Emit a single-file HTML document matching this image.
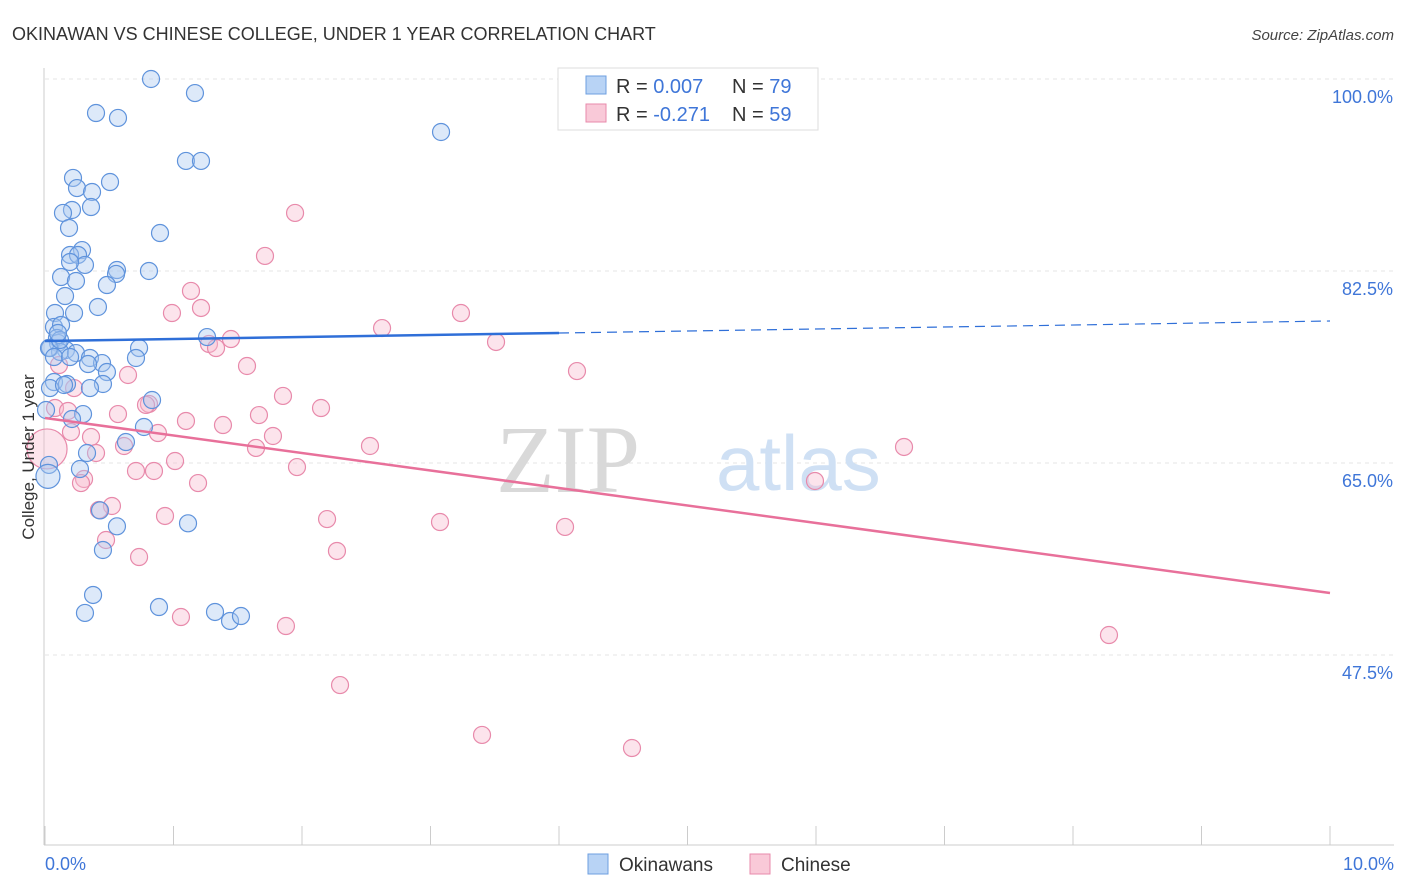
<!DOCTYPE html>
<html><head><meta charset="utf-8"><style>
body{margin:0;background:#fff;font-family:"Liberation Sans",sans-serif;}
#wrap{position:relative;width:1406px;height:892px;overflow:hidden;}
</style></head><body>
<div id="wrap">
<svg id="svg" width="1406" height="892" xmlns="http://www.w3.org/2000/svg">
<text x="12" y="40" font-size="18" fill="#333" font-family="Liberation Sans, sans-serif">OKINAWAN VS CHINESE COLLEGE, UNDER 1 YEAR CORRELATION CHART</text>
<text x="1394" y="40" font-size="15" fill="#444" font-style="italic" text-anchor="end">Source: ZipAtlas.com</text>
<g id="grid"></g>
<text x="640" y="492" font-size="96" fill="#d9d9d9" text-anchor="end" font-family="Liberation Serif, serif">ZIP</text>
<text x="716" y="490" font-size="78" fill="#cfe0f4" font-family="Liberation Sans, sans-serif">atlas</text>
<g id="points"></g>
<g id="lines"></g>
<text transform="translate(34,457) rotate(-90)" font-size="17" fill="#333" text-anchor="middle">College, Under 1 year</text>
<g>
<rect x="558" y="68" width="260" height="62" fill="#fff" stroke="#ddd"/>
<rect x="586" y="76" width="20" height="18" fill="#b8d3f5" stroke="#6e9fe0"/>
<rect x="586" y="104" width="20" height="18" fill="#f9c9d8" stroke="#e88aab"/>
<text x="616" y="93" font-size="20" fill="#333">R = <tspan fill="#3f76d8">0.007</tspan></text>
<text x="732" y="93" font-size="20" fill="#333">N = <tspan fill="#3f76d8">79</tspan></text>
<text x="616" y="121" font-size="20" fill="#333">R = <tspan fill="#3f76d8">-0.271</tspan></text>
<text x="732" y="121" font-size="20" fill="#333">N = <tspan fill="#3f76d8">59</tspan></text>
</g>
<g>
<rect x="588" y="854" width="20" height="20" fill="#b8d3f5" stroke="#6e9fe0"/>
<text x="619" y="871" font-size="19" fill="#333">Okinawans</text>
<rect x="750" y="854" width="20" height="20" fill="#f9c9d8" stroke="#e88aab"/>
<text x="781" y="871" font-size="19" fill="#333">Chinese</text>
</g>
</svg>
</div>
<script>
const yTicks=[100,82.5,65,47.5];
const yTickLabels=["100.0%","82.5%","65.0%","47.5%"];
const xTickLabels=["0.0%","10.0%"];
const okiX=[0.825,1.167,0.397,0.568,3.082,1.097,1.214,0.218,0.506,0.249,0.366,0.358,0.210,0.140,0.187,0.895,0.288,0.195,0.257,0.311,0.195,0.560,0.809,0.553,0.125,0.241,0.482,0.156,0.412,0.078,0.226,0.070,0.125,0.093,0.101,1.261,0.039,0.163,0.732,0.117,0.241,0.350,0.444,0.708,0.335,0.482,0.070,0.171,0.451,0.833,0.039,0.350,0.296,0.210,0.770,0.630,0.327,0.031,0.272,0.428,0.560,1.113,0.451,0.374,0.311,0.887,1.323,1.440,1.525,0.031,0.070,0.148,0.008,0.195,0.117,0.101];
const okiY=[100,98.72,96.90,96.45,95.17,92.53,92.53,90.98,90.61,90.06,89.70,88.33,88.06,87.79,86.42,85.96,84.41,83.96,83.96,83.05,83.32,82.59,82.50,82.23,81.95,81.59,81.22,80.22,79.22,78.67,78.67,77.40,77.58,76.39,75.94,76.48,75.48,75.30,75.48,75.12,75.02,74.57,74.11,74.57,74.02,73.29,72.38,72.20,72.20,70.74,71.83,71.83,69.46,69.01,68.28,66.91,65.91,64.82,64.45,60.68,59.23,59.50,57.07,52.97,51.33,51.87,51.42,50.60,51.05,75.48,74.66,72.11,69.83,74.66,76.21,76.85];
const okiBigX=[0.023], okiBigY=[63.78];
const chiX=[1.946,1.712,1.136,1.214,0.988,3.237,2.623,3.510,1.447,1.276,1.331,1.572,4.140,0.109,0.646,0.226,1.852,0.809,0.786,2.148,0.568,1.665,0.078,0.179,1.097,1.385,0.202,0.879,0.358,1.774,0.615,1.642,2.529,6.685,0.397,1.012,1.961,0.708,0.848,0.304,1.191,0.280,5.992,0.521,0.420,0.934,2.195,3.074,4.047,0.475,2.272,0.732,1.058,1.875,8.280,2.296,3.401,4.568];
const chiY=[87.79,83.87,80.68,79.13,78.67,78.67,77.30,76.03,76.30,75.85,75.48,73.84,73.38,73.93,73.02,71.83,71.11,70.38,70.29,70.01,69.46,69.37,70.01,69.74,68.83,68.46,67.82,67.73,67.37,67.46,66.55,66.37,66.55,66.46,65.91,65.18,64.63,64.27,64.27,63.54,63.17,63.17,63.36,61.08,60.72,60.17,59.89,59.62,59.17,57.98,56.98,56.43,50.96,50.14,49.32,44.76,40.21,39.02];
const chiBigX=[0.016], chiBigY=[66.28];
const okiTrend=[76.12,77.94];
const chiTrend=[69.1,53.15];

const NS="http://www.w3.org/2000/svg";
const sx=v=>45+v*128.5;
const sy=v=>79+(100-v)*10.971;
function mk(tag,attrs,parent){const e=document.createElementNS(NS,tag);for(const k in attrs)e.setAttribute(k,attrs[k]);parent.appendChild(e);return e;}
const grid=document.getElementById('grid');
yTicks.forEach((t,i)=>{
  const l=mk('line',{x1:45,x2:1394,y1:sy(t),y2:sy(t),stroke:'#e4e4e4','stroke-dasharray':'4,4'},grid);
  
  
  const tx=mk('text',{x:1393,y:sy(t)+24,'font-size':18,fill:'#3f76d8','text-anchor':'end'},grid);
  tx.textContent=yTickLabels[i];
  
  
});
const ax=mk('line',{x1:44,x2:44,y1:68,y2:845,stroke:'#ccc'},grid);


const bx=mk('line',{x1:44,x2:1394,y1:845,y2:845,stroke:'#ccc'},grid);


for(let i=0;i<=10;i++){
  const t=mk('line',{x1:sx(i),x2:sx(i),y1:826,y2:845,stroke:'#ccc'},grid);
  
  
}
const xl0=mk('text',{x:45,y:870,'font-size':18,fill:'#3f76d8'},grid);xl0.textContent=xTickLabels[0];


const xl1=mk('text',{x:1394,y:870,'font-size':18,fill:'#3f76d8','text-anchor':'end'},grid);xl1.textContent=xTickLabels[1];



const pts=document.getElementById('points');
function dots(X,Y,r,fill,stroke,name){
  X.forEach((x,i)=>{
    const c=mk('circle',{cx:sx(x),cy:sy(Y[i]),r:r,fill:fill,'fill-opacity':0.4,stroke:stroke,'stroke-width':1.2},pts);
    
    
  });
}
dots(chiX,chiY,8.5,'#f7bcd0','#e88aab','chinese-point');
dots(chiBigX,chiBigY,20,'#f7bcd0','#e88aab','chinese-point');
dots(okiX,okiY,8.5,'#a9c8f0','#5f93dc','okinawan-point');
dots(okiBigX,okiBigY,12,'#a9c8f0','#5f93dc','okinawan-point');

const lines=document.getElementById('lines');
const oAt=x=>okiTrend[0]+(okiTrend[1]-okiTrend[0])*x/10;
const l1=mk('line',{x1:sx(0),y1:sy(oAt(0)),x2:sx(4),y2:sy(oAt(4)),stroke:'#2f6fd8','stroke-width':2.5},lines);


const l2=mk('line',{x1:sx(4),y1:sy(oAt(4)),x2:sx(10),y2:sy(oAt(10)),stroke:'#2f6fd8','stroke-width':1.2,'stroke-dasharray':'10,6'},lines);


const l3=mk('line',{x1:sx(0),y1:sy(chiTrend[0]),x2:sx(10),y2:sy(chiTrend[1]),stroke:'#e8709a','stroke-width':2.5},lines);


</script>
</body></html>
